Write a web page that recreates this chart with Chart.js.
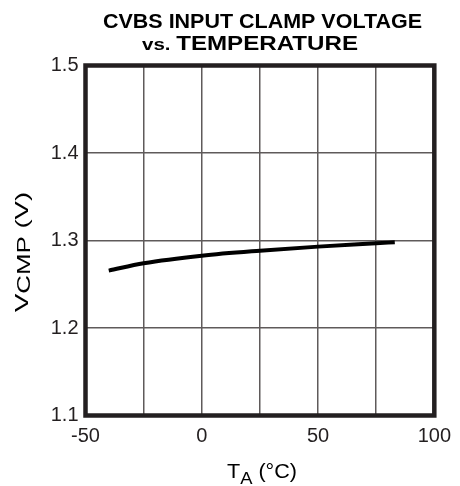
<!DOCTYPE html>
<html>
<head>
<meta charset="utf-8">
<script src="https://cdn.jsdelivr.net/npm/chart.js@4.4.1/dist/chart.umd.min.js"></script>
<style>
  html, body { margin: 0; padding: 0; background: #fff; }
</style>
</head>
<body>
<canvas id="clampChart" width="460" height="486"></canvas>
<script>
// Clamp voltage curve (°C, V)
const temperature = [-40, -25, 0, 25, 50, 75, 83];
const clampVoltage = [1.2656, 1.274, 1.2827, 1.2884, 1.293, 1.2968, 1.298];

// Labelled ticks; the other gridlines stay unlabelled
const xTickLabels = [-50, 0, 50, 100];
const yTickLabels = [1.1, 1.2, 1.3, 1.4, 1.5];

const FONT = 'Arial, "Liberation Sans", sans-serif';
const INK = "#231f20";

Chart.defaults.font.family = FONT;
Chart.defaults.color = INK;

// draw a run of [text, font, dy] pieces stretched to a given width
function drawRun(ctx, pieces, x0, y0, width) {
  let natural = 0;
  pieces.forEach(([t, font]) => {
    ctx.font = font + FONT;
    natural += ctx.measureText(t).width;
  });
  const sx = width / natural;
  ctx.save();
  ctx.translate(x0, y0);
  ctx.scale(sx, 1);
  let x = 0;
  pieces.forEach(([t, font, dy]) => {
    ctx.font = font + FONT;
    ctx.fillText(t, x, dy);
    x += ctx.measureText(t).width;
  });
  ctx.restore();
}

// Frame and texts with subscripts, drawn straight on the canvas
const decorations = {
  id: "decorations",
  afterDraw(chart) {
    const ctx = chart.ctx;
    const area = chart.chartArea;
    ctx.save();

    // heavy frame round the plot
    ctx.strokeStyle = INK;
    ctx.lineWidth = 4.5;
    ctx.strokeRect(area.left, area.top, area.right - area.left, area.bottom - area.top);

    ctx.fillStyle = "#000";
    ctx.textBaseline = "alphabetic";
    ctx.textAlign = "left";

    // title
    drawRun(ctx, [["CVBS INPUT CLAMP VOLTAGE", "bold 20px ", 0]], 103, 28, 319);
    drawRun(ctx, [["vs. ", "bold 17px ", 0], ["TEMPERATURE", "bold 20px ", 0]], 142, 50, 216);

    // x axis title: T_A (°C)
    drawRun(ctx, [["T", "20px ", 0], ["A", "17px ", 6], [" (°C)", "20px ", 0]], 227, 478, 70);

    // y axis title: V_CMP (V)
    ctx.save();
    ctx.translate(28, 312);
    ctx.rotate(-Math.PI / 2);
    drawRun(ctx, [["V", "19px ", 0], ["CMP", "18px ", 1.5], [" (V)", "19px ", 0]], 0, 0, 120);
    ctx.restore();

    ctx.restore();
  },
};

const ctx = document.getElementById("clampChart").getContext("2d");

new Chart(ctx, {
  type: "line",
  data: {
    datasets: [
      {
        data: temperature.map((t, i) => ({ x: t, y: clampVoltage[i] })),
        borderColor: "#000",
        borderWidth: 4,
        borderCapStyle: "butt",
        pointRadius: 0,
        tension: 0.4,
        cubicInterpolationMode: "monotone",
      },
    ],
  },
  options: {
    responsive: false,
    animation: false,
    devicePixelRatio: 1,
    layout: {
      padding: { top: 65.5, right: 22.5, bottom: 0, left: 0 },
    },
    scales: {
      x: {
        type: "linear",
        min: -50,
        max: 100,
        border: { display: false },
        grid: { color: "#5f5a5a", lineWidth: 1.5, drawTicks: false },
        ticks: {
          stepSize: 25,
          padding: 9,
          maxRotation: 0,
          autoSkip: false,
          font: { size: 20 },
          color: INK,
          callback: (v) => (xTickLabels.includes(v) ? String(v) : ""),
        },
        afterFit: (scale) => {
          scale.height = 70.5;
        },
      },
      y: {
        min: 1.1,
        max: 1.5,
        border: { display: false },
        grid: { color: "#5f5a5a", lineWidth: 1.5, drawTicks: false },
        ticks: {
          stepSize: 0.1,
          padding: 7,
          font: { size: 20 },
          color: INK,
          callback: (v) => {
            const r = Math.round(v * 10) / 10;
            return yTickLabels.includes(r) ? r.toFixed(1) : "";
          },
        },
        afterFit: (scale) => {
          scale.width = 85.5;
        },
      },
    },
    plugins: {
      legend: { display: false },
      tooltip: { enabled: false },
    },
  },
  plugins: [decorations],
});
</script>
</body>
</html>
